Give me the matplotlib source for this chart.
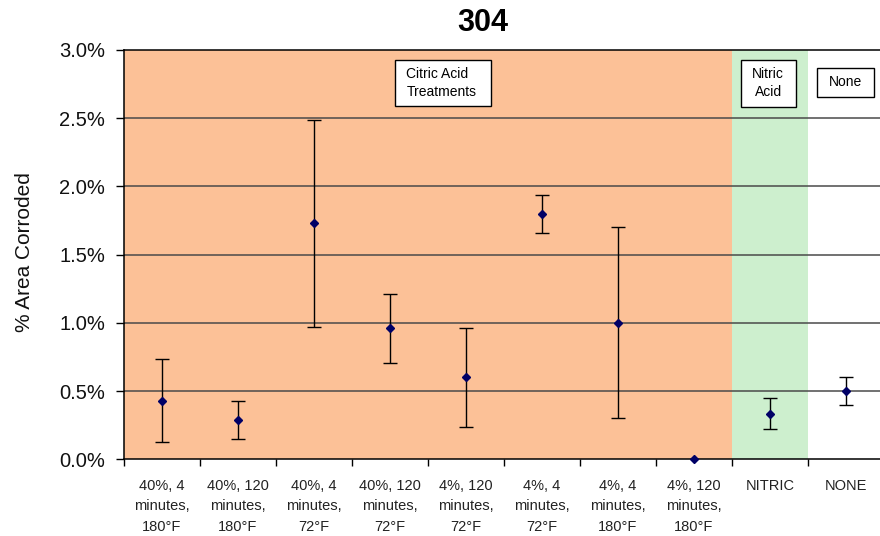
import matplotlib.pyplot as plt
from matplotlib.patches import Rectangle
from matplotlib.ticker import FuncFormatter, MultipleLocator

plt.rcParams['font.family'] = ['Liberation Sans', 'DejaVu Sans']

treatments = ['40%, 4\nminutes,\n180°F', '40%, 120\nminutes,\n180°F',
              '40%, 4\nminutes,\n72°F', '40%, 120\nminutes,\n72°F',
              '4%, 120\nminutes,\n72°F', '4%, 4\nminutes,\n72°F',
              '4%, 4\nminutes,\n180°F', '4%, 120\nminutes,\n180°F',
              'NITRIC', 'NONE']
# mean % area corroded and error bar half-width (both in %)
area_corroded = [0.43, 0.29, 1.73, 0.96, 0.60, 1.80, 1.00, 0.00, 0.335, 0.50]
area_err = [0.305, 0.14, 0.76, 0.255, 0.36, 0.14, 0.70, 0.0, 0.113, 0.103]

ORANGE = '#FCC197'
GREEN = '#CDEFCE'


def label_box(ax, x0, y0, x1, y1):
    """White framed box in data coords."""
    ax.add_patch(Rectangle((x0, y0), x1 - x0, y1 - y0, facecolor='white',
                           edgecolor='black', lw=1, zorder=5, clip_on=False))


def main():
    fig = plt.figure(figsize=(8.8, 5.36), dpi=100)
    ax = fig.add_axes([0.1409, 0.1431, 0.8636, 0.7637])

    x = list(range(len(treatments)))
    ax.axvspan(-0.5, 7.5, color=ORANGE, lw=0, zorder=0)
    ax.axvspan(7.5, 8.5, color=GREEN, lw=0, zorder=0)

    for yv in [0.5, 1.0, 1.5, 2.0, 2.5]:
        ax.axhline(yv, color='#4a4a4a', lw=1.1, zorder=1)

    for xi, yi, e in zip(x, area_corroded, area_err):
        if e > 0:
            ax.errorbar(xi, yi, yerr=e, fmt='none', ecolor='black',
                        elinewidth=1, capsize=5, capthick=1, zorder=3)
    ax.plot(x, area_corroded, 'D', color='#000066', markersize=4,
            linestyle='none', zorder=4, clip_on=False)

    ax.set_xlim(-0.5, 9.5)
    ax.set_ylim(0, 3.0)
    ax.yaxis.set_major_locator(MultipleLocator(0.5))
    ax.yaxis.set_major_formatter(FuncFormatter(lambda v, p: f'{v:.1f}%'))
    ax.tick_params(axis='y', labelsize=14.5, length=6, width=1, direction='out',
                   pad=7.5, labelcolor='#111111')

    ax.set_xticks(x)
    ax.set_xticklabels(treatments, fontsize=10.5, color='#222222', linespacing=1.6)
    ax.set_xticks([i + 0.5 for i in range(-1, 10)], minor=True)
    ax.tick_params(axis='x', which='major', length=0, pad=14)
    ax.tick_params(axis='x', which='minor', length=5, width=1, direction='out')

    ax.spines['right'].set_visible(False)
    for side in ['left', 'bottom', 'top']:
        ax.spines[side].set_color('black')
        ax.spines[side].set_linewidth(1.1)

    fig.text(24.5 / 880, 1 - 252 / 536, '% Area Corroded', rotation=90,
             ha='center', va='center', fontsize=15, color='#111111')
    fig.text(482.5 / 880, 1 - 23 / 536, '304', ha='center', va='center',
             fontsize=22, fontweight='bold')

    label_box(ax, 3.061, 2.590, 4.323, 2.927)
    ax.text(3.215, 2.759, 'Citric Acid\nTreatments', ha='left', va='center',
            fontsize=10, zorder=6, linespacing=1.35)
    label_box(ax, 7.617, 2.585, 8.340, 2.927)
    ax.text(7.976, 2.757, 'Nitric\nAcid', ha='center', va='center',
            fontsize=10, zorder=6, linespacing=1.35)
    label_box(ax, 8.615, 2.658, 9.372, 2.869)
    ax.text(8.994, 2.764, 'None', ha='center', va='center',
            fontsize=10, zorder=6)

    fig.savefig('out.png', dpi=100)


if __name__ == '__main__':
    main()
